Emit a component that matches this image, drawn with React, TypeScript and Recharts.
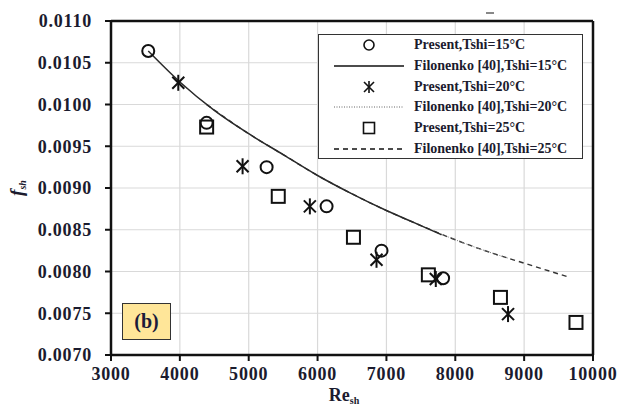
import React from 'react';
import { ComposedChart, Line, Scatter, XAxis, YAxis, CartesianGrid, ReferenceLine } from 'recharts';

// Re_sh tick values and f_sh tick values
const xTicks = [3000, 4000, 5000, 6000, 7000, 8000, 9000, 10000];
const yTicks = [0.007, 0.0075, 0.008, 0.0085, 0.009, 0.0095, 0.01, 0.0105, 0.011];

// measured points (Present)
const present15 = [
  { x: 3541, y: 0.01064 },
  { x: 4389, y: 0.00978 },
  { x: 5260, y: 0.00925 },
  { x: 6131, y: 0.00878 },
  { x: 6929, y: 0.00825 },
  { x: 7823, y: 0.00792 },
];
const present20 = [
  { x: 3977, y: 0.01026 },
  { x: 4911, y: 0.00926 },
  { x: 5888, y: 0.00878 },
  { x: 6856, y: 0.00814 },
  { x: 7717, y: 0.00791 },
  { x: 8766, y: 0.00749 },
];
const present25 = [
  { x: 4389, y: 0.00973 },
  { x: 5429, y: 0.0089 },
  { x: 6521, y: 0.00841 },
  { x: 7609, y: 0.00796 },
  { x: 8656, y: 0.00769 },
  { x: 9753, y: 0.00739 },
];

// Filonenko [40] curves
const filo15 = [
  { x: 3541, y: 0.01064 },
  { x: 4000, y: 0.01027 },
  { x: 4500, y: 0.00993 },
  { x: 5000, y: 0.00965 },
  { x: 5500, y: 0.0094 },
  { x: 6000, y: 0.00915 },
  { x: 6500, y: 0.00893 },
  { x: 7000, y: 0.00873 },
  { x: 7500, y: 0.00855 },
  { x: 7800, y: 0.00844 },
];
const filo20 = [
  { x: 3977, y: 0.01028 },
  { x: 4500, y: 0.00993 },
  { x: 5000, y: 0.00965 },
  { x: 5500, y: 0.0094 },
  { x: 6000, y: 0.00915 },
  { x: 6500, y: 0.00893 },
  { x: 7000, y: 0.00873 },
  { x: 7500, y: 0.00855 },
  { x: 8000, y: 0.00838 },
  { x: 8500, y: 0.00823 },
  { x: 8766, y: 0.00816 },
];
const filo25 = [
  { x: 4389, y: 0.01 },
  { x: 5000, y: 0.00965 },
  { x: 5500, y: 0.0094 },
  { x: 6000, y: 0.00915 },
  { x: 6500, y: 0.00893 },
  { x: 7000, y: 0.00873 },
  { x: 7500, y: 0.00855 },
  { x: 8000, y: 0.00838 },
  { x: 8500, y: 0.00823 },
  { x: 9000, y: 0.0081 },
  { x: 9660, y: 0.00793 },
];

const legendLabels = [
  'Present,Tshi=15°C',
  'Filonenko [40],Tshi=15°C',
  'Present,Tshi=20°C',
  'Filonenko [40],Tshi=20°C',
  'Present,Tshi=25°C',
  'Filonenko [40],Tshi=25°C',
];

const FONT = '"Liberation Serif", "Times New Roman", serif';
const INK = '#111';
const TEXT = '#1b1b2e';

const CircleMark = ({ cx, cy }: any) => (
  <circle cx={cx} cy={cy} r={6} fill="none" stroke={INK} strokeWidth={2} />
);

const StarMark = ({ cx, cy }: any) => (
  <g stroke={INK} strokeWidth={2}>
    <line x1={cx} y1={cy - 8} x2={cx} y2={cy + 8} />
    <line x1={cx - 6} y1={cy - 6} x2={cx + 6} y2={cy + 6} />
    <line x1={cx - 6} y1={cy + 6} x2={cx + 6} y2={cy - 6} />
  </g>
);

const SquareMark = ({ cx, cy }: any) => (
  <rect x={cx - 6.5} y={cy - 6.5} width={13} height={13} fill="none" stroke={INK} strokeWidth={2} />
);

const LegendBox = () => {
  const sym = (i: number) => {
    const cy = 10;
    switch (i) {
      case 0: return <circle cx={50} cy={cy} r={5} fill="none" stroke={INK} strokeWidth={1.6} />;
      case 1: return <line x1={15} y1={cy} x2={85} y2={cy} stroke={INK} strokeWidth={1.4} />;
      case 2:
        return (
          <g stroke={INK} strokeWidth={1.6}>
            <line x1={50} y1={cy - 6} x2={50} y2={cy + 6} />
            <line x1={45} y1={cy - 5} x2={55} y2={cy + 5} />
            <line x1={45} y1={cy + 5} x2={55} y2={cy - 5} />
          </g>
        );
      case 3: return <line x1={15} y1={cy} x2={85} y2={cy} stroke="#666" strokeWidth={1} strokeDasharray="1 1.5" />;
      case 4: return <rect x={44.5} y={cy - 5.5} width={11} height={11} fill="none" stroke={INK} strokeWidth={1.6} />;
      default: return <line x1={15} y1={cy} x2={85} y2={cy} stroke={INK} strokeWidth={1.4} strokeDasharray="5 4" />;
    }
  };
  return (
    <div
      style={{
        position: 'absolute',
        left: 318,
        top: 34,
        border: '1.5px solid #333',
        background: '#fff',
        width: 265,
        height: 125,
        boxSizing: 'border-box',
        padding: '0 0 0 0',
        fontFamily: FONT,
        fontWeight: 'bold',
        fontSize: 14,
        color: TEXT,
      }}
    >
      {legendLabels.map((t, i) => (
        <div key={t} style={{ display: 'flex', alignItems: 'center', height: 20.7 }}>
          <svg width={95} height={20}>{sym(i)}</svg>
          <span style={{ whiteSpace: 'nowrap' }}>{t}</span>
        </div>
      ))}
    </div>
  );
};

const XTitle = ({ viewBox }: any) => {
  const { x, y, width } = viewBox;
  return (
    <text x={x + width / 2 - 8} y={y + 46} textAnchor="middle" fontFamily={FONT} fontWeight="bold" fontSize={18} fill={TEXT}>
      Re<tspan fontSize={10} dy={3}>sh</tspan>
    </text>
  );
};

const YTitle = ({ viewBox }: any) => {
  const { y, height } = viewBox;
  const cx = 23;
  const cy = y + height / 2;
  return (
    <text x={cx} y={cy} transform={`rotate(-90 ${cx} ${cy})`} textAnchor="middle" fontFamily={FONT} fontWeight="bold" fontStyle="italic" fontSize={19} fill={TEXT}>
      f<tspan fontSize={10} dy={3}>sh</tspan>
    </text>
  );
};

const tickStyle = { fontFamily: FONT, fontWeight: 'bold', fontSize: 18, fill: TEXT, letterSpacing: 0.8 };

export default function App() {
  return (
    <div style={{ position: 'absolute', left: 0, top: 0, width: 628, height: 407, background: '#fff' }}>
      <ComposedChart width={628} height={407} margin={{ top: 21, right: 35, left: 11, bottom: 22 }}>
        <CartesianGrid stroke="#d9d9d9" strokeWidth={1.2} />
        <XAxis
          dataKey="x"
          type="number"
          domain={[3000, 10000]}
          ticks={xTicks}
          allowDataOverflow
          height={30}
          axisLine={{ stroke: INK, strokeWidth: 2.5 }}
          tickLine={{ stroke: INK, strokeWidth: 2 }}
          tickSize={6}
          tickMargin={6}
          tick={tickStyle}
          label={<XTitle />}
        />
        <YAxis
          type="number"
          domain={[0.007, 0.011]}
          ticks={yTicks}
          allowDataOverflow
          width={100}
          tickFormatter={(v: number) => v.toFixed(4)}
          axisLine={{ stroke: INK, strokeWidth: 2.5 }}
          tickLine={{ stroke: INK, strokeWidth: 2 }}
          tickSize={6}
          tickMargin={13}
          tick={tickStyle}
          label={<YTitle />}
        />
        <ReferenceLine y={0.011} stroke={INK} strokeWidth={2.5} />
        <ReferenceLine x={10000} stroke={INK} strokeWidth={2.5} />
        <Line data={filo25} dataKey="y" type="monotone" stroke="#333" strokeWidth={1.4} strokeDasharray="5 4" dot={false} isAnimationActive={false} />
        <Line data={filo20} dataKey="y" type="monotone" stroke="#777" strokeWidth={1} strokeDasharray="1 1.5" dot={false} isAnimationActive={false} />
        <Line data={filo15} dataKey="y" type="monotone" stroke="#2a2a2a" strokeWidth={1.5} dot={false} isAnimationActive={false} />
        <Scatter data={present15} dataKey="y" shape={<CircleMark />} isAnimationActive={false} />
        <Scatter data={present20} dataKey="y" shape={<StarMark />} isAnimationActive={false} />
        <Scatter data={present25} dataKey="y" shape={<SquareMark />} isAnimationActive={false} />
      </ComposedChart>
      <LegendBox />
      <div
        style={{
          position: 'absolute',
          left: 122,
          top: 303,
          width: 49,
          height: 37,
          boxSizing: 'border-box',
          background: '#ffe699',
          border: '1.5px solid #333',
          fontFamily: FONT,
          fontWeight: 'bold',
          fontSize: 20,
          color: '#1b1b3a',
          display: 'flex',
          alignItems: 'center',
          justifyContent: 'center',
        }}
      >
        (b)
      </div>
      <div style={{ position: 'absolute', left: 486, top: 12, width: 8, height: 1.5, background: '#888' }} />
    </div>
  );
}
